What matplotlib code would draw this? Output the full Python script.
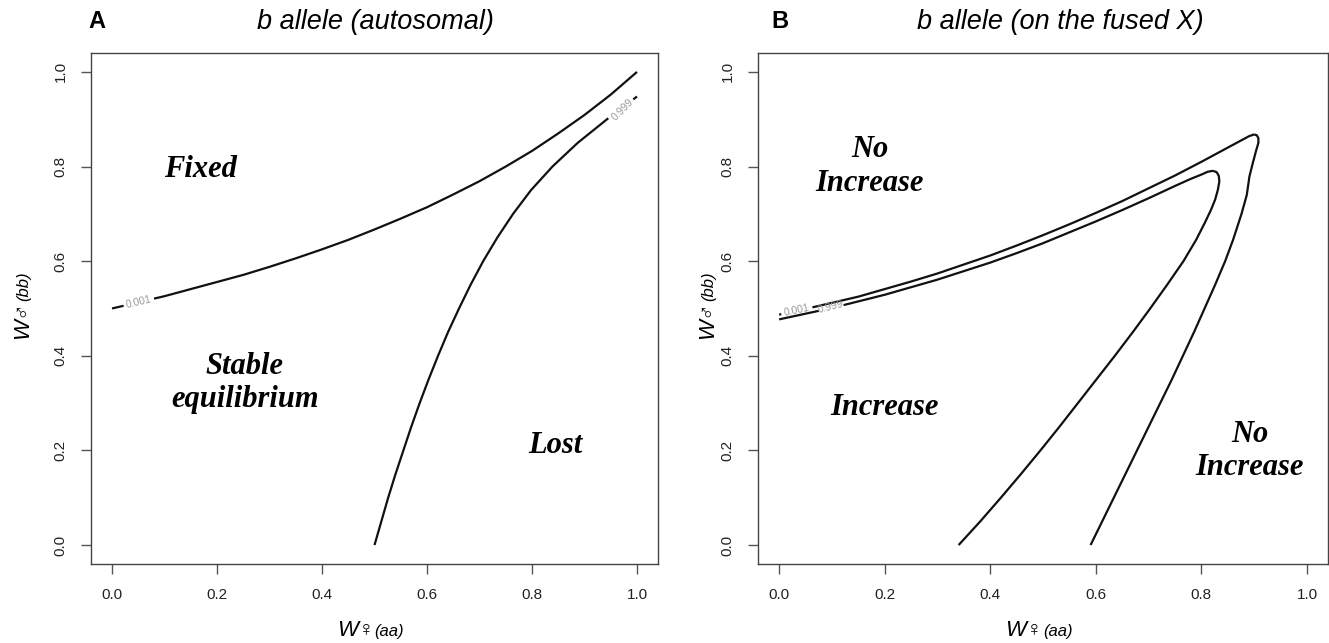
import numpy as np
import matplotlib.pyplot as plt

# ---- panel A: b allele (autosomal) ----
# upper contour (0.001), y read along x
a_fix_x = [0, 0.05, 0.1, 0.15, 0.2, 0.25, 0.3, 0.35, 0.4, 0.45, 0.5,
           0.55, 0.6, 0.65, 0.7, 0.75, 0.8, 0.85, 0.9, 0.95, 1.0]
a_fix_y = [0.500, 0.513, 0.526, 0.541, 0.556, 0.571, 0.588, 0.606, 0.625, 0.645, 0.667,
           0.690, 0.714, 0.741, 0.769, 0.800, 0.833, 0.870, 0.909, 0.952, 1.000]
# lower contour (0.999), x read along y
a_lost_y = [0, 0.05, 0.1, 0.15, 0.2, 0.25, 0.3, 0.35, 0.4, 0.45, 0.5,
            0.55, 0.6, 0.65, 0.7, 0.75, 0.8, 0.85, 0.9, 0.948]
a_lost_x = [0.500, 0.513, 0.526, 0.540, 0.555, 0.570, 0.586, 0.603, 0.621, 0.640, 0.661,
            0.683, 0.707, 0.734, 0.764, 0.798, 0.839, 0.887, 0.943, 1.000]

# ---- panel B: b allele (on the fused X) ----
# outer contour (0.001): upper branch along x, right branch along y
b_out_up_x = [0, 0.05, 0.1, 0.15, 0.2, 0.25, 0.3, 0.35, 0.4, 0.45, 0.5, 0.55,
              0.6, 0.65, 0.7, 0.75, 0.8, 0.85, 0.875, 0.89, 0.9]
b_out_up_y = [0.487, 0.499, 0.512, 0.525, 0.541, 0.557, 0.574, 0.593, 0.612, 0.633, 0.655, 0.678,
              0.702, 0.727, 0.754, 0.781, 0.810, 0.840, 0.855, 0.864, 0.868]
b_out_dn_y = [0.868, 0.866, 0.860, 0.850, 0.835, 0.810, 0.779, 0.74, 0.70, 0.645, 0.60,
              0.55, 0.50, 0.45, 0.40, 0.35, 0.30, 0.25, 0.20, 0.15, 0.10, 0.05, 0]
b_out_dn_x = [0.900, 0.905, 0.908, 0.908, 0.904, 0.898, 0.891, 0.886, 0.876, 0.860, 0.845,
              0.826, 0.806, 0.786, 0.765, 0.744, 0.722, 0.700, 0.678, 0.656, 0.634, 0.612, 0.590]
# inner contour (0.999)
b_in_up_x = [0, 0.05, 0.1, 0.15, 0.2, 0.25, 0.3, 0.35, 0.4, 0.45, 0.5, 0.55,
             0.6, 0.65, 0.7, 0.75, 0.78, 0.8, 0.812, 0.822]
b_in_up_y = [0.477, 0.489, 0.501, 0.515, 0.529, 0.545, 0.561, 0.579, 0.597, 0.617, 0.638, 0.661,
             0.684, 0.708, 0.733, 0.759, 0.774, 0.783, 0.789, 0.791]
b_in_dn_y = [0.791, 0.788, 0.780, 0.768, 0.750, 0.730, 0.708, 0.68, 0.645, 0.60, 0.55,
             0.50, 0.45, 0.40, 0.35, 0.30, 0.25, 0.20, 0.15, 0.10, 0.05, 0]
b_in_dn_x = [0.822, 0.829, 0.833, 0.834, 0.831, 0.826, 0.818, 0.806, 0.790, 0.766, 0.735,
             0.703, 0.670, 0.636, 0.601, 0.566, 0.531, 0.495, 0.458, 0.420, 0.381, 0.340]

ticks = [0, 0.2, 0.4, 0.6, 0.8, 1.0]
sans = ['Liberation Sans', 'DejaVu Sans']
serif = ['Liberation Serif', 'DejaVu Serif']


def curve(ax, t, u, gap=None, swap=False):
    # t is the parameter the gap (for the contour label) is cut on
    t = np.asarray(t, float)
    u = np.asarray(u, float)
    if gap is None:
        segs = [(t, u)]
    else:
        g0, g1 = gap
        lo, hi = t < g0, t > g1
        segs = [(np.append(t[lo], g0), np.append(u[lo], np.interp(g0, t, u))),
                (np.insert(t[hi], 0, g1), np.insert(u[hi], 0, np.interp(g1, t, u)))]
    for a, b in segs:
        if swap:
            a, b = b, a
        ax.plot(a, b, color='#111111', lw=1.6, solid_capstyle='butt',
                solid_joinstyle='round')


def clabel(ax, x, y, s, rot):
    ax.text(x, y, s, rotation=rot, rotation_mode='anchor', ha='center', va='center',
            fontsize=7.5, color='#999999', family=sans)


def region(ax, x, y, s):
    ax.text(x, y, s, ha='center', va='center', fontsize=22, family=serif,
            weight='bold', style='italic', linespacing=1.2)


def style(ax, ylab_x):
    ax.set_xlim(-0.04, 1.04)
    ax.set_ylim(-0.04, 1.04)
    ax.set_xticks(ticks)
    ax.set_yticks(ticks)
    ax.set_xticklabels(['%.1f' % v for v in ticks])
    ax.set_yticklabels(['%.1f' % v for v in ticks])
    for s in ax.spines.values():
        s.set_color('#444444')
        s.set_linewidth(1.0)
    ax.tick_params(length=7, width=1.0, color='#555555', labelsize=11,
                   labelcolor='#222222', pad=10)
    ax.tick_params(axis='y', labelrotation=90)
    for lbl in ax.get_xticklabels() + ax.get_yticklabels():
        lbl.set_family(sans)
    for lbl in ax.get_yticklabels():
        lbl.set_va('center')
    # axis labels: W sex(genotype)
    ax.text(0.5, -0.14, 'W\u2640', transform=ax.transAxes, ha='right', va='baseline',
            fontsize=16, style='italic', family=sans)
    ax.text(0.5, -0.14, '(aa)', transform=ax.transAxes, ha='left', va='baseline',
            fontsize=12, style='italic', family=sans)
    ax.text(ylab_x, 0.515, 'W\u2642', transform=ax.transAxes, rotation=90,
            rotation_mode='anchor', ha='right', va='baseline',
            fontsize=16, style='italic', family=sans)
    ax.text(ylab_x, 0.515, '(bb)', transform=ax.transAxes, rotation=90,
            rotation_mode='anchor', ha='left', va='baseline',
            fontsize=12, style='italic', family=sans)


fig = plt.figure(figsize=(13.29, 6.43), dpi=100)
axA = fig.add_axes([0.0685, 0.1229, 0.4266, 0.7947])
axB = fig.add_axes([0.5704, 0.1229, 0.4289, 0.7947])

# panel A
curve(axA, a_fix_x, a_fix_y, gap=(0.022, 0.080))
curve(axA, a_lost_y, a_lost_x, gap=(0.902, 0.942), swap=True)
clabel(axA, 0.051, 0.513, '0.001', 13)
clabel(axA, 0.972, 0.921, '0.999', 45)
region(axA, 0.168, 0.793, 'Fixed')
region(axA, 0.253, 0.342, 'Stable\nequilibrium')
region(axA, 0.844, 0.211, 'Lost')
style(axA, -0.111)

# panel B
curve(axB, b_out_up_x, b_out_up_y, gap=(0.004, 0.063))
curve(axB, b_out_dn_y, b_out_dn_x, swap=True)
curve(axB, b_in_up_x, b_in_up_y, gap=(0.075, 0.122))
curve(axB, b_in_dn_y, b_in_dn_x, swap=True)
clabel(axB, 0.033, 0.495, '0.001', 12)
clabel(axB, 0.098, 0.503, '0.999', 14)
region(axB, 0.171, 0.80, 'No\nIncrease')
region(axB, 0.20, 0.29, 'Increase')
region(axB, 0.891, 0.199, 'No\nIncrease')
style(axB, -0.079)

# panel letters and titles
fig.text(97 / 1329, 1 - 22 / 643, 'A', ha='center', va='center', fontsize=17,
         weight='bold', family=sans)
fig.text(780 / 1329, 1 - 22 / 643, 'B', ha='center', va='center', fontsize=17,
         weight='bold', family=sans)
fig.text(375 / 1329, 1 - 22 / 643, 'b allele (autosomal)', ha='center', va='center',
         fontsize=19.5, style='italic', family=sans)
fig.text(1060 / 1329, 1 - 22 / 643, 'b allele (on the fused X)', ha='center', va='center',
         fontsize=19.5, style='italic', family=sans)

fig.savefig('out.png', dpi=100)
